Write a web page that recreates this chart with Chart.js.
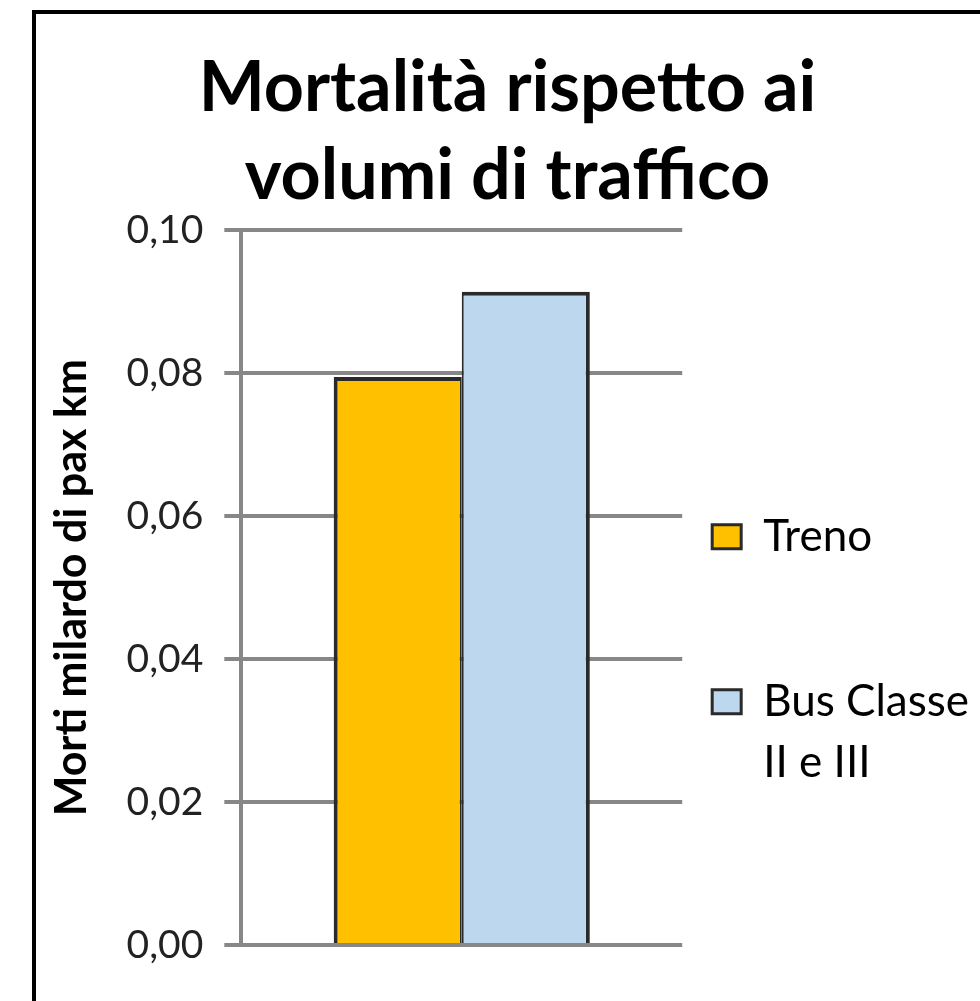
<!DOCTYPE html>
<html>
<head>
<meta charset="utf-8">
<script src="https://cdn.jsdelivr.net/npm/chart.js@4.4.1/dist/chart.umd.min.js"></script>
<style>
  html, body { margin: 0; padding: 0; background: #fff; overflow: hidden; width: 980px; height: 1001px; }
  #frame { position: absolute; left: 32px; top: 10px; width: 1010px; height: 1050px; border: 4px solid #000; box-sizing: border-box; }
  #wrap { position: absolute; left: 36px; top: 14px; width: 936px; height: 987px; }
</style>
</head>
<body>
<div id="frame"></div>
<div id="wrap"><canvas id="c"></canvas></div>
<script>
// ---- data ----
const categories = [''];
const seriesNames = ['Treno', 'Bus Classe II e III'];
const trenoValues = [0.0795];
const busValues = [0.0914];
const yTickValues = [0, 0.02, 0.04, 0.06, 0.08, 0.10];
const titleLines = ['Mortalità rispetto ai', 'volumi di traffico'];
const yAxisTitle = 'Morti milardo di pax km';
const legendLines = [['Treno'], ['Bus Classe', 'II e III']];

const GRID = '#878787';
const EDGE = '#2a2a2a';

function build() {
  const ctx = document.getElementById('c');
  new Chart(ctx, {
    type: 'bar',
    data: {
      labels: categories,
      datasets: [
        {
          label: seriesNames[0],
          data: trenoValues,
          backgroundColor: '#FFC000',
          borderColor: EDGE,
          borderWidth: { top: 4, left: 4, right: 2, bottom: 0 },
          barPercentage: 1,
          categoryPercentage: 0.581
        },
        {
          label: seriesNames[1],
          data: busValues,
          backgroundColor: '#BDD7EE',
          borderColor: EDGE,
          borderWidth: { top: 4, left: 2, right: 4, bottom: 0 },
          barPercentage: 1,
          categoryPercentage: 0.581
        }
      ]
    },
    options: {
      responsive: true,
      maintainAspectRatio: false,
      devicePixelRatio: 1,
      animation: false,
      layout: { padding: { left: 0, right: -7, top: 0, bottom: 56 } },
      plugins: {
        tooltip: { enabled: false },
        title: {
          display: true,
          text: titleLines,
          color: '#000',
          font: { family: 'Lato', size: 70, weight: 'bold', lineHeight: 1.26 },
          padding: { top: 30, bottom: 10 }
        },
        legend: {
          display: true,
          position: 'right',
          align: 'start',
          fullSize: false,
          maxWidth: 400,
          title: { display: true, text: '', padding: { top: 240, bottom: 0 }, font: { size: 12 } },
          labels: {
            boxWidth: 29,
            boxHeight: 24,
            padding: 30,
            color: '#000',
            font: { family: 'Lato', size: 44, lineHeight: 61 / 44 },
            generateLabels(chart) {
              const ds = chart.data.datasets;
              const item = (i) => ({
                text: legendLines[i].length === 1 ? legendLines[i][0] : legendLines[i],
                fillStyle: ds[i].backgroundColor,
                strokeStyle: ds[i].borderColor,
                fontColor: '#000',
                lineWidth: 3,
                hidden: !chart.isDatasetVisible(i),
                datasetIndex: i
              });
              const spacer = { text: [''], fillStyle: 'rgba(0,0,0,0)', strokeStyle: 'rgba(0,0,0,0)', fontColor: '#000', lineWidth: 0, hidden: false, datasetIndex: -1 };
              return [item(0), spacer, item(1)];
            }
          }
        }
      },
      scales: {
        x: { display: false },
        y: {
          min: 0,
          max: 0.1,
          afterBuildTicks: (s) => { s.ticks = yTickValues.map(v => ({ value: v })); },
          grid: { color: GRID, lineWidth: 4, tickLength: 17, drawTicks: true },
          border: { display: true, color: GRID, width: 4 },
          ticks: {
            color: '#222',
            padding: 21,
            font: { family: 'Lato', size: 39 },
            callback: (v) => Number(v).toFixed(2).replace('.', ',')
          },
          title: {
            display: true,
            text: yAxisTitle,
            color: '#000',
            font: { family: 'Lato', size: 43, weight: 'bold' },
            padding: { top: 10, bottom: 8 }
          }
        }
      }
    }
  });
}

const fontLoads = [
  'bold 70px Lato', '44px Lato', '39px Lato', 'bold 43px Lato'
].map(f => document.fonts.load(f).catch(() => null));
Promise.all(fontLoads).then(build, build);
</script>
</body>
</html>
